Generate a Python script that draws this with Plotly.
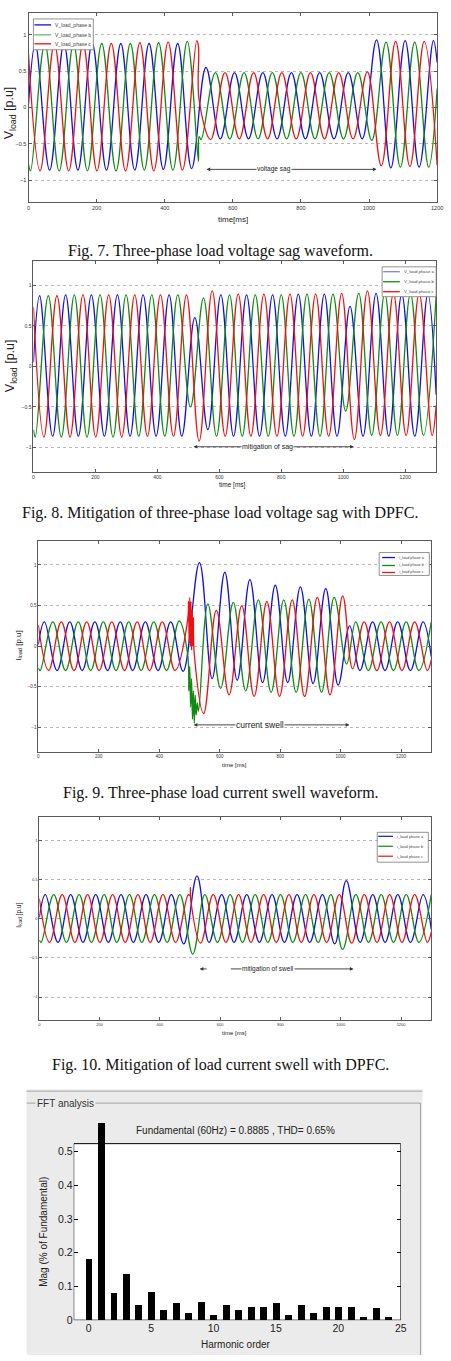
import plotly.graph_objects as go

W, H = 451, 1361
def PX(x): return x / W
def PY(y): return 1 - y / H

# ---------------- data ----------------
BLUE, GREEN, RED = "#1010e8", "#108a10", "#f01010"
TIME_TICKS = [0, 200, 400, 600, 800, 1000, 1200]
PU_TICKS = [-1, -0.5, 0, 0.5, 1]

# Fig. 7 : extrema (time ms, value p.u.)
P1_T_A = [0, 20, 62, 104, 145, 187, 229, 271, 312, 354, 396, 438, 479, 521, 563, 605, 646, 688, 730, 772, 813, 855, 897, 939, 980, 1022, 1064, 1106, 1147, 1189, 1200]
P1_V_A = [0.05, 0.87, -0.86, 0.87, -0.86, 0.88, -0.86, 0.88, -0.86, 0.88, -0.85, 0.88, -0.84, 0.55, -0.43, 0.48, -0.43, 0.48, -0.43, 0.48, -0.43, 0.48, -0.43, 0.48, -0.43, 0.93, -0.83, 0.92, -0.82, 0.92, 0.62]
P1_T_B = [0, 6, 48, 90, 132, 173, 215, 257, 299, 340, 382, 424, 466, 499, 501, 507, 549, 591, 633, 674, 716, 758, 800, 841, 883, 925, 967, 1008, 1050, 1092, 1134, 1175, 1200]
P1_V_B = [-0.78, -0.87, 0.87, -0.87, 0.87, -0.87, 0.88, -0.87, 0.88, -0.86, 0.89, -0.86, 0.91, -0.74, -0.40, -0.44, 0.48, -0.43, 0.48, -0.43, 0.48, -0.43, 0.48, -0.43, 0.48, -0.43, 0.48, -0.45, 0.90, -0.82, 0.90, -0.82, 0.26]
P1_T_C = [0, 34, 76, 118, 160, 201, 243, 285, 327, 368, 410, 452, 494, 499, 501, 535, 577, 619, 661, 702, 744, 786, 828, 869, 911, 953, 995, 1036, 1078, 1120, 1162, 1200]
P1_V_C = [0.73, -0.87, 0.87, -0.87, 0.88, -0.87, 0.88, -0.87, 0.89, -0.87, 0.90, -0.86, 0.92, 0.84, 0.10, -0.44, 0.48, -0.43, 0.48, -0.43, 0.48, -0.43, 0.48, -0.43, 0.48, -0.43, 0.49, -0.80, 0.91, -0.81, 0.91, -0.79]

# Fig. 8
P2_T_A = [0, 20, 62, 104, 145, 187, 229, 271, 312, 354, 396, 438, 479, 521, 563, 605, 646, 688, 730, 772, 813, 855, 897, 939, 980, 1022, 1064, 1106, 1147, 1189, 1231, 1273, 1300]
P2_V_A = [0.05, 0.87, -0.86, 0.88, -0.86, 0.88, -0.86, 0.88, -0.86, 0.88, -0.86, 0.88, -0.86, 0.60, -0.78, 0.88, -0.86, 0.88, -0.86, 0.88, -0.86, 0.89, -0.86, 0.89, -0.86, 0.74, -0.86, 0.90, -0.86, 0.89, -0.86, 0.89, -0.35]
P2_T_B = [0, 6, 48, 90, 132, 173, 215, 257, 299, 340, 382, 424, 466, 507, 549, 591, 633, 674, 716, 758, 800, 841, 883, 925, 967, 1008, 1050, 1092, 1134, 1175, 1217, 1259, 1300]
P2_V_B = [-0.78, -0.87, 0.87, -0.87, 0.88, -0.87, 0.88, -0.87, 0.88, -0.86, 0.88, -0.86, 0.88, -0.50, 0.84, -0.86, 0.88, -0.86, 0.88, -0.86, 0.88, -0.86, 0.89, -0.86, 0.89, -0.55, 0.90, -0.85, 0.90, -0.85, 0.90, -0.85, 0.88]
P2_T_C = [0, 34, 76, 118, 160, 201, 243, 285, 327, 368, 410, 452, 494, 535, 577, 619, 661, 702, 744, 786, 828, 869, 911, 953, 995, 1036, 1078, 1120, 1162, 1203, 1245, 1287, 1300]
P2_V_C = [0.73, -0.87, 0.87, -0.87, 0.88, -0.87, 0.88, -0.87, 0.88, -0.86, 0.88, -0.86, 0.88, -0.92, 0.93, -0.86, 0.89, -0.86, 0.89, -0.86, 0.89, -0.86, 0.89, -0.86, 0.90, -0.90, 0.93, -0.85, 0.90, -0.85, 0.90, -0.85, -0.48]

# Fig. 9
P3_T_A = [0, 20, 62, 104, 145, 187, 229, 271, 312, 354, 396, 438, 479, 533, 575, 617, 658, 700, 742, 784, 825, 867, 909, 951, 992, 1030, 1064, 1106, 1147, 1189, 1231, 1273, 1300]
P3_V_A = [0.02, 0.30, -0.30, 0.30, -0.30, 0.30, -0.30, 0.30, -0.30, 0.30, -0.30, 0.30, -0.31, 1.03, -0.40, 0.91, -0.42, 0.82, -0.45, 0.75, -0.45, 0.73, -0.46, 0.71, -0.48, 0.25, -0.30, 0.30, -0.30, 0.30, -0.30, 0.30, -0.13]
P3_T_B = [0, 6, 48, 90, 132, 173, 215, 257, 299, 340, 382, 424, 466, 494, 498, 501, 504, 507, 510, 513, 516, 519, 522, 526, 530, 561, 603, 645, 686, 728, 770, 812, 853, 895, 937, 979, 1020, 1050, 1092, 1134, 1175, 1217, 1259, 1300]
P3_V_B = [-0.27, -0.30, 0.30, -0.30, 0.30, -0.30, 0.30, -0.30, 0.30, -0.30, 0.30, -0.30, 0.31, -0.10, -0.55, -0.25, -0.75, -0.40, -0.90, -0.55, -0.95, -0.60, -0.85, -0.70, -0.80, 0.52, -0.52, 0.54, -0.55, 0.57, -0.57, 0.57, -0.57, 0.58, -0.57, 0.60, -0.22, 0.30, -0.30, 0.30, -0.30, 0.30, -0.30, 0.30]
P3_T_C = [0, 34, 76, 118, 160, 201, 243, 285, 327, 368, 410, 452, 494, 497, 499, 501, 503, 505, 507, 509, 511, 513, 516, 547, 589, 631, 673, 714, 756, 798, 840, 881, 923, 965, 1007, 1040, 1078, 1120, 1162, 1203, 1245, 1287, 1300]
P3_V_C = [0.26, -0.30, 0.30, -0.30, 0.30, -0.30, 0.30, -0.30, 0.30, -0.30, 0.30, -0.30, 0.32, 0.55, 0.05, 0.60, 0.00, 0.55, -0.05, 0.45, 0.00, 0.35, -0.10, -0.83, 0.44, -0.60, 0.50, -0.62, 0.55, -0.62, 0.57, -0.62, 0.60, -0.60, 0.62, -0.28, 0.30, -0.30, 0.30, -0.30, 0.30, -0.30, -0.17]

# Fig. 10
P4_T_A = [0, 20, 62, 104, 145, 187, 229, 271, 312, 354, 396, 438, 479, 523, 563, 605, 646, 688, 730, 772, 813, 855, 897, 939, 980, 1018, 1064, 1106, 1147, 1189, 1231, 1273, 1300]
P4_V_A = [0.02, 0.31, -0.30, 0.31, -0.30, 0.31, -0.30, 0.31, -0.30, 0.31, -0.30, 0.31, -0.32, 0.55, -0.30, 0.31, -0.30, 0.31, -0.30, 0.31, -0.30, 0.31, -0.30, 0.31, -0.32, 0.49, -0.30, 0.31, -0.30, 0.31, -0.30, 0.31, -0.13]
P4_T_B = [0, 6, 48, 90, 132, 173, 215, 257, 299, 340, 382, 424, 466, 509, 549, 591, 633, 674, 716, 758, 800, 841, 883, 925, 967, 1006, 1050, 1092, 1134, 1175, 1217, 1259, 1300]
P4_V_B = [-0.27, -0.30, 0.31, -0.30, 0.31, -0.30, 0.31, -0.30, 0.31, -0.30, 0.31, -0.30, 0.31, -0.45, 0.31, -0.30, 0.31, -0.30, 0.31, -0.30, 0.31, -0.30, 0.31, -0.30, 0.31, -0.39, 0.31, -0.30, 0.31, -0.30, 0.31, -0.30, 0.31]
P4_T_C = [0, 34, 76, 118, 160, 201, 243, 285, 327, 368, 410, 452, 494, 500, 501, 503, 535, 577, 619, 661, 702, 744, 786, 828, 869, 911, 953, 995, 1036, 1078, 1120, 1162, 1203, 1245, 1287, 1300]
P4_V_C = [0.26, -0.30, 0.31, -0.30, 0.31, -0.30, 0.31, -0.30, 0.31, -0.30, 0.31, -0.30, 0.31, 0.30, 0.40, 0.22, -0.31, 0.31, -0.30, 0.31, -0.30, 0.31, -0.30, 0.31, -0.30, 0.31, -0.30, 0.31, -0.31, 0.31, -0.30, 0.31, -0.30, 0.31, -0.30, -0.17]

# FFT analysis
HARM_ORDER = [0, 1, 2, 3, 4, 5, 6, 7, 8, 9, 10, 11, 12, 13, 14, 15, 16, 17, 18, 19, 20, 21, 22, 23, 24]
HARM_MAG = [0.180, 0.585, 0.080, 0.136, 0.044, 0.084, 0.031, 0.050, 0.021, 0.054, 0.015, 0.044, 0.031, 0.039, 0.039, 0.050, 0.015, 0.044, 0.021, 0.039, 0.039, 0.039, 0.010, 0.036, 0.010]
HARM_TICKS = [0, 5, 10, 15, 20, 25]
MAG_TICKS = [0, 0.1, 0.2, 0.3, 0.4, 0.5]
MAG_FRAME_TOP = 0.524

# ---------------- figure ----------------
fig = go.Figure()
SERIES = [
    (1, [(P1_T_A, P1_V_A, BLUE), (P1_T_B, P1_V_B, GREEN), (P1_T_C, P1_V_C, RED)]),
    (2, [(P2_T_A, P2_V_A, BLUE), (P2_T_B, P2_V_B, GREEN), (P2_T_C, P2_V_C, RED)]),
    (3, [(P3_T_A, P3_V_A, BLUE), (P3_T_B, P3_V_B, GREEN), (P3_T_C, P3_V_C, RED)]),
    (4, [(P4_T_A, P4_V_A, BLUE), (P4_T_B, P4_V_B, GREEN), (P4_T_C, P4_V_C, RED)]),
]
for n, lst in SERIES:
    for t, v, c in lst:
        fig.add_trace(go.Scatter(
            x=t, y=v, mode="lines",
            line=dict(color=c, width=1.3, shape="spline", smoothing=1.1),
            xaxis="x" if n == 1 else f"x{n}", yaxis="y" if n == 1 else f"y{n}",
            showlegend=False, hoverinfo="skip"))

fig.add_trace(go.Bar(x=HARM_ORDER, y=HARM_MAG, width=0.55, marker=dict(color="black", line=dict(width=0)),
                     xaxis="x5", yaxis="y5", showlegend=False, hoverinfo="skip"))

SANS = "Liberation Sans, Arial, sans-serif"
SERIF = "Liberation Serif, Times New Roman, serif"
FRAME = "#5a5a5a"

panels = {
    1: dict(xd=(27, 443), yd=(13, 203), xr=(0, 1200), fs=5.5),
    2: dict(xd=(32, 442), yd=(262, 474), xr=(0, 1300), fs=5),
    3: dict(xd=(37, 437), yd=(543, 755), xr=(0, 1300), fs=4.5),
    4: dict(xd=(38, 437), yd=(821, 1025), xr=(0, 1300), fs=4),
}
layout_axes = {}
for n, p in panels.items():
    sx = "" if n == 1 else str(n)
    layout_axes["xaxis" + sx] = dict(
        domain=[PX(p["xd"][0]), PX(p["xd"][1])], range=list(p["xr"]), tickvals=TIME_TICKS,
        ticks="inside", ticklen=3, tickcolor=FRAME, showline=True, linecolor=FRAME, linewidth=1,
        mirror="ticks", showgrid=False, zeroline=False, anchor="y" + sx,
        tickfont=dict(family=SANS, size=p["fs"], color="#333"))
    layout_axes["yaxis" + sx] = dict(
        domain=[PY(p["yd"][1]), PY(p["yd"][0])], range=[-1.3, 1.3], tickvals=PU_TICKS,
        ticks="inside", ticklen=3, tickcolor=FRAME, showline=True, linecolor=FRAME, linewidth=1,
        mirror="ticks", showgrid=True, gridcolor="#b8b8b8", griddash="dot", gridwidth=1,
        zeroline=False, anchor="x" + sx,
        tickfont=dict(family=SANS, size=p["fs"], color="#333"))

layout_axes["xaxis5"] = dict(
    domain=[PX(73), PX(406)], range=[-1.2, 25], tickvals=HARM_TICKS, ticks="inside", ticklen=4,
    tickcolor="black", showline=False, showgrid=False, zeroline=False, anchor="y5",
    tickfont=dict(family=SANS, size=10.5, color="#222"))
layout_axes["yaxis5"] = dict(
    domain=[PY(1326), PY(1123)], range=[0, 0.6], tickvals=MAG_TICKS, ticks="inside", ticklen=4,
    tickcolor="black", showline=False, mirror="ticks", showgrid=False, zeroline=False, anchor="x5",
    tickfont=dict(family=SANS, size=10.5, color="#222"))

shapes = []
annotations = []

# FFT window background and group box
shapes.append(dict(type="rect", xref="paper", yref="paper", x0=PX(25), x1=PX(428), y0=PY(1361), y1=PY(1094),
                   fillcolor="#ebebeb", line=dict(width=0), layer="below"))
shapes.append(dict(type="line", xref="paper", yref="paper", x0=PX(25), x1=PX(428), y0=PY(1096), y1=PY(1096),
                   line=dict(color="#a8a8a8", width=1)))
shapes.append(dict(type="line", xref="paper", yref="paper", x0=PX(25), x1=PX(426), y0=PY(1108), y1=PY(1108),
                   line=dict(color="#a0a0a0", width=1)))
shapes.append(dict(type="line", xref="paper", yref="paper", x0=PX(426), x1=PX(426), y0=PY(1108), y1=PY(1361),
                   line=dict(color="#a0a0a0", width=1)))
shapes.append(dict(type="rect", xref="x5", yref="y5", x0=-1.2, x1=25, y0=0, y1=MAG_FRAME_TOP,
                   fillcolor="white", line=dict(color="black", width=1), layer="below"))
annotations.append(dict(text="FFT analysis", xref="paper", yref="paper", x=PX(34), y=PY(1108),
                        xanchor="left", yanchor="middle", showarrow=False, bgcolor="#ebebeb", borderpad=1,
                        font=dict(family=SANS, size=10, color="#333")))
annotations.append(dict(text="Fundamental (60Hz) = 0.8885 , THD= 0.65%", xref="paper", yref="paper",
                        x=PX(238), y=PY(1136), xanchor="center", yanchor="middle", showarrow=False,
                        font=dict(family=SANS, size=10, color="#222")))
annotations.append(dict(text="Mag (% of Fundamental)", xref="paper", yref="paper", x=PX(42), y=PY(1237),
                        textangle=-90, xanchor="center", yanchor="middle", showarrow=False,
                        font=dict(family=SANS, size=10, color="#222")))
annotations.append(dict(text="Harmonic order", xref="paper", yref="paper", x=PX(238), y=PY(1350),
                        xanchor="center", yanchor="middle", showarrow=False,
                        font=dict(family=SANS, size=10, color="#222")))

# legends (drawn manually, compact like MATLAB)
legends = [
    dict(box=(32, 19, 93, 50), rows=(25, 35, 44), lx=(33, 50), tx=52, fs=5,
         names=["V_load_phase a", "V_load_phase b", "V_load_phase c"], widths=(1.3, 0.8, 1.3)),
    dict(box=(387, 268, 442, 298), rows=(273, 283, 293), lx=(388, 405), tx=407, fs=4.3,
         names=["V_load phase a", "V_load phase b", "V_load phase c"], widths=(0.7, 1.3, 1.3)),
    dict(box=(384, 555, 435, 578), rows=(560, 568, 575), lx=(387, 400), tx=402, fs=3.8,
         names=["i_load phase a", "i_load phase b", "i_load phase c"], widths=(1.3, 1.3, 1.3)),
    dict(box=(382, 836, 434, 866), rows=(840, 850, 860), lx=(383, 398), tx=400, fs=4,
         names=["i_load phase a", "i_load phase b", "i_load phase c"], widths=(1.2, 1.2, 1.2)),
]
for lg in legends:
    x0, y0, x1, y1 = lg["box"]
    shapes.append(dict(type="rect", xref="paper", yref="paper", x0=PX(x0), x1=PX(x1), y0=PY(y1), y1=PY(y0),
                       fillcolor="white", line=dict(color="#777", width=0.8)))
    for r, nm, col, w in zip(lg["rows"], lg["names"], (BLUE, GREEN, RED), lg["widths"]):
        shapes.append(dict(type="line", xref="paper", yref="paper", x0=PX(lg["lx"][0]), x1=PX(lg["lx"][1]),
                           y0=PY(r), y1=PY(r), line=dict(color=col, width=w)))
        annotations.append(dict(text=nm, xref="paper", yref="paper", x=PX(lg["tx"]), y=PY(r),
                                xanchor="left", yanchor="middle", showarrow=False,
                                font=dict(family=SANS, size=lg["fs"], color="#444")))

# axis titles
titles = [
    ("V<sub>load</sub> [p.u]", 8, 113, 12.5, -90),
    ("time[ms]", 235, 220, 8, 0),
    ("V<sub>load</sub> [p.u]", 10, 367, 12.5, -90),
    ("time [ms]", 235, 487, 6.5, 0),
    ("I<sub>load</sub> [p.u]", 17, 648, 8, -90),
    ("time [ms]", 237, 768, 6, 0),
    ("I<sub>load</sub> [p.u]", 17, 919, 6.5, -90),
    ("time [ms]", 237, 1038, 6, 0),
]
for txt, x, y, fs, ang in titles:
    annotations.append(dict(text=txt, xref="paper", yref="paper", x=PX(x), y=PY(y), textangle=ang,
                            xanchor="center", yanchor="middle", showarrow=False,
                            font=dict(family=SANS, size=fs, color="#222")))

# captions
captions = [
    ("Fig. 7. Three-phase load voltage sag waveform.", 222, 252),
    ("Fig. 8. Mitigation of three-phase load voltage sag with DPFC.", 222, 515),
    ("Fig. 9. Three-phase load current swell waveform.", 223, 797),
    ("Fig. 10. Mitigation of load current swell with DPFC.", 222, 1070),
]
for txt, x, y in captions:
    annotations.append(dict(text=txt, xref="paper", yref="paper", x=PX(x), y=PY(y),
                            xanchor="center", yanchor="middle", showarrow=False,
                            font=dict(family=SERIF, size=16, color="#111")))

# event arrows: (panel, value, [(head, tail), ...], label, label_t, fontsize)
events = [
    (1, -0.85, [(523, 720), (1022, 720)], "voltage sag", 720, 6.5),
    (2, -0.99, [(517, 757), (1034, 757)], "mitigation of sag", 757, 7),
    (3, -0.97, [(514, 733), (1029, 733)], "current swell", 733, 8.5),
    (4, -0.64, [(532, 560), (1042, 630)], "mitigation of swell", 760, 6.5),
]
for n, yv, arrows, lab, lt, fs in events:
    xr = "x" if n == 1 else f"x{n}"
    yr = "y" if n == 1 else f"y{n}"
    for head, tail in arrows:
        annotations.append(dict(text="", xref=xr, yref=yr, axref=xr, ayref=yr, x=head, y=yv, ax=tail, ay=yv,
                                showarrow=True, arrowhead=2, arrowsize=0.8, arrowwidth=0.9, arrowcolor="#333"))
    annotations.append(dict(text=lab, xref=xr, yref=yr, x=lt, y=yv, xanchor="center", yanchor="middle",
                            showarrow=False, bgcolor="white", borderpad=0,
                            font=dict(family=SANS, size=fs, color="#222")))

fig.update_layout(
    width=W, height=H, margin=dict(l=0, r=0, t=0, b=0),
    paper_bgcolor="white", plot_bgcolor="rgba(0,0,0,0)",
    shapes=shapes, annotations=annotations, showlegend=False, bargap=0,
    **layout_axes)

fig.write_html("out.html")
